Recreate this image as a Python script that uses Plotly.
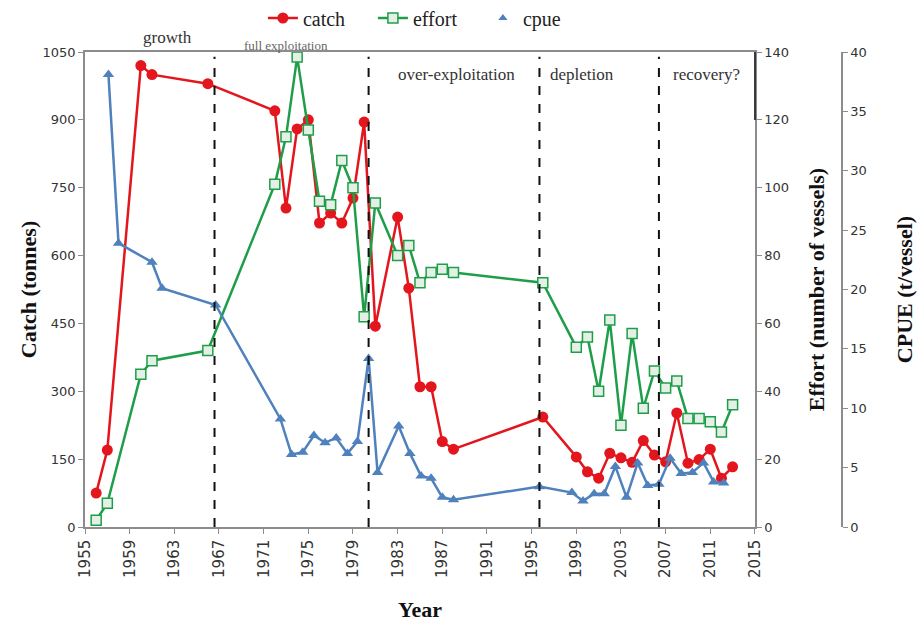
import plotly.graph_objects as go

# ---------------- data ----------------
years = [1956, 1957, 1960, 1961, 1966, 1972, 1973, 1974, 1975, 1976, 1977, 1978, 1979,
         1980, 1981, 1983, 1984, 1985, 1986, 1987, 1988, 1996, 1999, 2000, 2001, 2002,
         2003, 2004, 2005, 2006, 2007, 2008, 2009, 2010, 2011, 2012, 2013]
catch = [75, 170, 1020, 1000, 980, 920, 705, 880, 900, 672, 694, 672, 727,
         895, 444, 685, 528, 310, 310, 189, 172, 243, 155, 122, 108, 163,
         153, 143, 191, 159, 144, 252, 141, 149, 172, 108, 133]
effort = [2, 7, 45, 49, 52, 101, 115, 138.5, 117, 96, 95, 108, 100,
          62, 95.5, 80, 83, 72, 75, 76, 75, 72, 53, 56, 40, 61,
          30, 57, 35, 46, 41, 43, 32, 32, 31, 28, 36]
cpue_years = [1957.1, 1958.0, 1961.0, 1961.9, 1966.7, 1972.5, 1973.5, 1974.5, 1975.5,
              1976.5, 1977.5, 1978.5, 1979.4, 1980.4, 1981.2, 1983.1, 1984.1, 1985.1,
              1986.0, 1987.0, 1988.0, 1995.7, 1998.6, 1999.6, 2000.6, 2001.5, 2002.5,
              2003.5, 2004.5, 2005.4, 2006.4, 2007.4, 2008.4, 2009.4, 2010.4, 2011.3, 2012.2]
cpue = [38.1, 23.9, 22.3, 20.1, 18.7, 9.1, 6.1, 6.3, 7.7, 7.1, 7.5, 6.2, 7.2,
        14.2, 4.6, 8.5, 6.2, 4.3, 4.1, 2.5, 2.3, 3.4, 2.9, 2.2, 2.8, 2.8, 5.1,
        2.5, 5.4, 3.5, 3.6, 5.8, 4.5, 4.6, 5.4, 3.8, 3.7]

phase_bounds = [1966.6, 1980.4, 1995.7, 2006.4]
phase_labels = ["over-exploitation", "depletion", "recovery?"]
phase_label_x = [1988.3, 1999.5, 2010.7]
x_ticks = list(range(1955, 2016, 4))
catch_ticks = [0, 150, 300, 450, 600, 750, 900, 1050]
effort_ticks = [0, 20, 40, 60, 80, 100, 120, 140]
cpue_ticks = [0, 5, 10, 15, 20, 25, 30, 35, 40]

RED = "#e3161d"
GREEN = "#1f9e4a"
BLUE = "#4f81bd"
SERIF = "Liberation Serif"
SANS = "DejaVu Sans"
X_DOMAIN_END = 0.885

fig = go.Figure()

fig.add_trace(go.Scatter(
    x=years, y=catch, name="catch", mode="lines+markers",
    line=dict(color=RED, width=2.5),
    marker=dict(symbol="circle", size=11, color=RED),
    yaxis="y"))
fig.add_trace(go.Scatter(
    x=years, y=effort, name="effort", mode="lines+markers",
    line=dict(color=GREEN, width=2.5),
    marker=dict(symbol="square", size=10, color="#e4efe6",
                line=dict(color=GREEN, width=1.5)),
    yaxis="y2"))
fig.add_trace(go.Scatter(
    x=cpue_years, y=cpue, name="cpue", mode="lines+markers", showlegend=False,
    line=dict(color=BLUE, width=2.5),
    marker=dict(symbol="triangle-up", size=10, color=BLUE),
    yaxis="y3"))
# legend entry for cpue (marker only)
fig.add_trace(go.Scatter(
    x=[None], y=[None], name="cpue", mode="markers",
    marker=dict(symbol="triangle-up", size=8, color=BLUE), yaxis="y3"))

shapes = []
for xb in phase_bounds:
    shapes.append(dict(type="line", xref="x", yref="paper", x0=xb, x1=xb,
                       y0=0, y1=0.99, line=dict(color="#111111", width=2, dash="dash")))
# dark segment at the top of the right frame edge
shapes.append(dict(type="line", xref="paper", yref="paper", x0=X_DOMAIN_END,
                   x1=X_DOMAIN_END, y0=0.857, y1=1.0,
                   line=dict(color="#111111", width=1.5)))

annotations = [
    dict(text="growth", x=1962.35, y=1.0295, xref="x", yref="paper",
         xanchor="center", yanchor="middle",
         showarrow=False, font=dict(family=SERIF, size=17, color="#333333")),
    dict(text="full exploitation", x=1973.0, y=1.0147, xref="x", yref="paper",
         xanchor="center", yanchor="middle",
         showarrow=False, font=dict(family=SERIF, size=13, color="#666666")),
]
for lbl, lx in zip(phase_labels, phase_label_x):
    annotations.append(dict(text=lbl, x=lx, y=0.952, xref="x", yref="paper",
                            xanchor="center", yanchor="middle", showarrow=False,
                            font=dict(family=SERIF, size=17, color="#333333")))

axis_line = "#8c8c8c"
tick_font = dict(family=SANS, size=13, color="#333333")
title_font = dict(family=SERIF, size=22, color="#111111")

fig.update_layout(
    width=920, height=623,
    margin=dict(l=85, r=78, t=52, b=96, autoexpand=False),
    paper_bgcolor="white", plot_bgcolor="white",
    showlegend=True,
    legend=dict(orientation="h", x=0.235, xanchor="left", y=1.0716, yanchor="middle",
                font=dict(family=SERIF, size=20, color="#222222"),
                bgcolor="rgba(255,255,255,1)", itemwidth=30,
                entrywidth=65, entrywidthmode="pixels"),
    xaxis=dict(domain=[0, X_DOMAIN_END], range=[1955, 2015], tickvals=x_ticks,
               tickangle=-90, ticks="outside", ticklen=5, tickcolor=axis_line,
               showline=True, linecolor=axis_line, linewidth=1.5, mirror=True,
               showgrid=False, zeroline=False,
               tickfont=dict(family=SANS, size=15, color="#333333"),
               title=dict(text="<b>Year</b>", font=title_font, standoff=25)),
    yaxis=dict(range=[0, 1050], tickvals=catch_ticks, ticks="outside", ticklen=5,
               tickcolor=axis_line, showline=True, linecolor=axis_line, linewidth=1.5,
               showgrid=False, zeroline=False, tickfont=tick_font,
               title=dict(text="<b>Catch (tonnes)</b>", font=title_font, standoff=0)),
    yaxis2=dict(range=[0, 140], tickvals=effort_ticks, overlaying="y", side="right",
                anchor="x", ticks="outside", ticklen=5, tickcolor=axis_line,
                showline=True, linecolor=axis_line, linewidth=1.5,
                showgrid=False, zeroline=False, tickfont=tick_font,
                title=dict(text="<b>Effort (number of vessels)</b>", font=title_font,
                           standoff=20)),
    yaxis3=dict(range=[0, 40], tickvals=cpue_ticks, overlaying="y", side="right",
                anchor="free", position=1.0, ticks="outside", ticklen=5,
                tickcolor=axis_line, showline=True, linecolor=axis_line, linewidth=1.5,
                showgrid=False, zeroline=False, tickfont=tick_font,
                title=dict(text="<b>CPUE (t/vessel)</b>", font=title_font, standoff=30)),
    shapes=shapes,
    annotations=annotations,
)

fig.write_html("out.html")
